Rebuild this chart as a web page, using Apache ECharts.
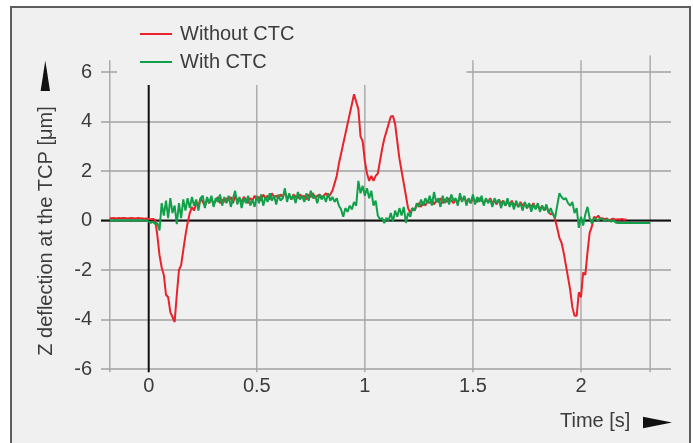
<!DOCTYPE html>
<html>
<head>
<meta charset="utf-8">
<script src="https://cdn.jsdelivr.net/npm/echarts@6/dist/echarts.min.js"></script>
<style>html,body{margin:0;padding:0;background:#fff}#c{width:693px;height:443px}</style>
</head>
<body>
<div id="c"></div>
<script>
// ---- data ----
var time = [
-0.18,-0.17,-0.16,-0.15,-0.14,-0.13,-0.12,-0.11,-0.10,-0.09,-0.08,-0.07,-0.06,-0.05,-0.04,-0.03,-0.02,-0.01,
0.00,0.01,0.02,0.03,0.04,0.05,0.06,0.07,0.08,0.09,0.10,0.11,0.12,0.13,0.14,0.15,0.16,0.17,0.18,0.19,
0.20,0.21,0.22,0.23,0.24,0.25,0.26,0.27,0.28,0.29,0.30,0.31,0.32,0.33,0.34,0.35,0.36,0.37,0.38,0.39,
0.40,0.41,0.42,0.43,0.44,0.45,0.46,0.47,0.48,0.49,0.50,0.51,0.52,0.53,0.54,0.55,0.56,0.57,0.58,0.59,
0.60,0.61,0.62,0.63,0.64,0.65,0.66,0.67,0.68,0.69,0.70,0.71,0.72,0.73,0.74,0.75,0.76,0.77,0.78,0.79,
0.80,0.81,0.82,0.83,0.84,0.85,0.86,0.87,0.88,0.89,0.90,0.91,0.92,0.93,0.94,0.95,0.96,0.97,0.98,0.99,
1.00,1.01,1.02,1.03,1.04,1.05,1.06,1.07,1.08,1.09,1.10,1.11,1.12,1.13,1.14,1.15,1.16,1.17,1.18,1.19,
1.20,1.21,1.22,1.23,1.24,1.25,1.26,1.27,1.28,1.29,1.30,1.31,1.32,1.33,1.34,1.35,1.36,1.37,1.38,1.39,
1.40,1.41,1.42,1.43,1.44,1.45,1.46,1.47,1.48,1.49,1.50,1.51,1.52,1.53,1.54,1.55,1.56,1.57,1.58,1.59,
1.60,1.61,1.62,1.63,1.64,1.65,1.66,1.67,1.68,1.69,1.70,1.71,1.72,1.73,1.74,1.75,1.76,1.77,1.78,1.79,
1.80,1.81,1.82,1.83,1.84,1.85,1.86,1.87,1.88,1.89,1.90,1.91,1.92,1.93,1.94,1.95,1.96,1.97,1.98,1.99,
2.00,2.01,2.02,2.03,2.04,2.05,2.06,2.07,2.08,2.09,2.10,2.11,2.12,2.13,2.14,2.15,2.16,2.17,2.18,2.19,
2.20,2.21,2.22,2.23,2.24,2.25,2.26,2.27,2.28,2.29,2.30,2.31,2.32
];

var withoutCTC = [
0.1,0.09,0.1,0.08,0.1,0.09,0.1,0.1,0.08,0.09,0.1,0.09,0.08,0.1,0.09,0.08,0.07,0.08,
0.06,0.05,0.06,0.02,-0.6,-1.4,-1.9,-2.2,-3.0,-3.1,-3.7,-3.9,-4.1,-3.0,-2.0,-1.8,-1.2,-0.6,-0.1,0.3,
0.55,0.4,0.7,0.6,0.9,0.75,0.6,0.85,0.7,0.9,0.65,0.8,0.95,0.7,0.85,0.75,0.9,0.8,0.95,0.7,
1.0,0.8,0.9,0.75,0.95,0.85,0.7,0.9,0.8,1.0,0.85,0.95,0.8,1.05,0.9,1.0,0.85,1.1,0.95,1.0,
0.9,1.05,0.95,1.15,0.9,1.0,0.85,1.05,0.95,0.9,1.05,0.95,1.0,0.85,1.05,0.95,1.1,0.9,1.0,1.05,
0.95,1.0,1.1,0.95,1.05,1.2,1.5,1.8,2.3,2.7,3.1,3.5,3.9,4.3,4.7,5.1,4.8,4.5,3.4,3.2,
2.4,1.9,1.6,1.8,1.6,1.8,1.9,2.4,2.9,3.3,3.6,3.9,4.2,4.22,3.9,3.2,2.5,2.0,1.5,1.0,
0.5,0.3,0.5,0.4,0.6,0.7,0.55,0.75,0.6,0.8,0.7,0.85,0.65,0.8,0.75,0.9,0.7,0.85,0.75,0.9,
0.8,0.7,0.85,0.75,0.9,0.8,0.95,0.75,0.85,0.7,0.9,0.8,0.75,0.9,0.8,0.7,0.85,0.75,0.9,0.7,
0.8,0.65,0.85,0.7,0.8,0.6,0.75,0.65,0.8,0.6,0.7,0.55,0.75,0.6,0.7,0.5,0.65,0.55,0.7,0.5,
0.6,0.45,0.6,0.4,0.55,0.35,0.25,0.3,0.05,-0.3,-0.7,-0.9,-1.3,-1.8,-2.3,-2.8,-3.5,-3.85,-3.85,-2.9,
-3.1,-2.1,-2.2,-1.3,-0.5,-0.25,0.15,0.1,0.2,0.05,0.1,0.05,0.08,0.0,0.05,0.07,0.03,0.05,0.04,0.06,
0.03,0.05,null,null,null,null,null,null,null,null,null,null,null
];

var withCTC = [
0.0,0.01,0.0,0.02,0.0,0.01,0.0,0.0,0.01,0.0,0.02,0.0,0.01,0.0,0.0,0.01,0.0,0.0,
-0.05,-0.1,-0.05,-0.15,-0.1,-0.4,0.7,0.2,0.8,0.1,0.9,0.3,0.6,-0.15,0.7,0.1,0.85,0.4,0.9,0.5,
0.95,0.6,0.85,0.4,0.9,1.0,0.5,0.95,0.7,1.0,0.55,0.9,0.75,1.05,0.6,0.95,0.7,1.0,0.55,0.9,
1.2,0.65,0.95,0.5,0.9,0.7,1.0,0.6,0.85,0.55,1.0,0.7,1.05,0.6,0.95,0.75,1.1,0.8,1.0,0.65,
1.05,0.8,0.9,1.3,0.75,1.1,0.85,1.0,0.7,1.15,0.85,1.0,0.75,1.1,0.8,1.2,0.9,1.0,0.7,1.05,
0.85,1.0,0.75,1.1,0.8,0.95,0.75,0.9,0.6,0.45,0.15,0.5,0.35,0.6,0.45,0.75,0.6,1.6,1.1,1.4,
1.0,1.3,0.9,1.2,0.6,0.8,0.2,0.05,0.1,-0.1,0.1,0.0,0.3,-0.05,0.4,0.15,0.5,0.2,0.55,-0.1,
0.3,0.15,0.5,0.4,0.7,0.55,0.85,0.6,0.9,0.7,1.0,0.6,1.15,0.75,0.9,0.55,1.0,0.7,0.95,0.65,
1.05,0.8,0.9,0.6,1.1,0.75,1.0,0.6,0.9,0.7,1.05,0.65,0.95,0.75,1.0,0.6,0.9,0.7,0.85,0.55,
0.9,0.7,0.85,0.5,0.8,0.6,0.9,0.55,0.75,0.45,0.8,0.55,0.7,0.4,0.75,0.5,0.7,0.35,0.65,0.45,
0.7,0.35,0.6,0.4,0.65,0.3,0.5,0.25,0.1,0.6,1.1,0.95,0.85,0.9,0.7,0.6,0.75,0.3,0.5,-0.3,
0.15,-0.2,0.25,0.55,0.1,-0.12,0.1,0.05,0.0,0.1,0.05,-0.02,0.05,0.0,-0.05,0.02,-0.08,-0.1,-0.1,-0.1,
-0.1,-0.1,-0.1,-0.1,-0.1,-0.1,-0.1,-0.1,-0.1,-0.1,-0.1,-0.1,-0.1
];

var seriesNames = ['Without CTC', 'With CTC'];
var xTickValues = [0, 0.5, 1, 1.5, 2];
// vertical grid lines: [x, yFrom, x, yTo]
var vGrid = [
  [-0.18, -6.13, -0.18, 6.47],
  [0.5, -6.13, 0.5, 6.47],
  [1, -6.13, 1, 6.47],
  [1.5, -6.13, 1.5, 6.47],
  [2, -6.13, 2, 6.47],
  [2.32, -6.13, 2.32, 6.67]
];
// zero axes
var zeroLines = [
  [-0.2207, 0, 2.4164, 0],
  [0, -6.13, 0, 6.47]
];

function pair(t, v) {
  var out = [];
  for (var i = 0; i < t.length; i++) out.push([t[i], v[i]]);
  return out;
}

var FONT = 'Liberation Sans';
var TXT = '#3c3c3c';

function lineRenderer(color, width) {
  return function (params, api) {
    var p1 = api.coord([api.value(0), api.value(1)]);
    var p2 = api.coord([api.value(2), api.value(3)]);
    return {
      type: 'line',
      shape: { x1: p1[0], y1: p1[1], x2: p2[0], y2: p2[1] },
      style: { stroke: color, lineWidth: width }
    };
  };
}

var chart = echarts.init(document.getElementById('c'), null, { renderer: 'canvas' });
chart.setOption({
  backgroundColor: '#ffffff',
  animation: false,
  graphic: [
    { type: 'rect', z: -10, shape: { x: 11, y: 7, width: 679, height: 450 },
      style: { fill: '#f0f0f0', stroke: '#5e5e5e', lineWidth: 2 } },
    { type: 'polygon', shape: { points: [[45.3, 60.5], [50, 91], [40.6, 91]] }, style: { fill: '#111' } },
    { type: 'polygon', shape: { points: [[643, 416.8], [672, 422.5], [643, 428.3]] }, style: { fill: '#111' } },
    { type: 'text', x: 46, y: 231, rotation: Math.PI / 2,
      style: { text: 'Z deflection at the TCP [μm]', font: '20px "' + FONT + '"', fill: TXT,
        align: 'center', verticalAlign: 'middle' } },
    { type: 'text', x: 560, y: 421,
      style: { text: 'Time [s]', font: '20px "' + FONT + '"', fill: TXT,
        align: 'left', verticalAlign: 'middle' } }
  ],
  legend: {
    orient: 'vertical',
    left: 117, top: 10,
    padding: [14, 172, 13, 23],
    itemWidth: 32, itemHeight: 20, itemGap: 8,
    backgroundColor: '#f0f0f0',
    z: 10,
    textStyle: { fontFamily: FONT, fontSize: 20, color: TXT, padding: [0, 0, 0, 3] },
    data: [
      { name: seriesNames[0], icon: 'path://M0,0L32,0L32,2L0,2Z' },
      { name: seriesNames[1], icon: 'path://M0,0L32,0L32,2L0,2Z' }
    ]
  },
  grid: { left: 101, right: 22, top: 72, bottom: 74, containLabel: false },
  xAxis: {
    type: 'value', min: -0.2207, max: 2.4164,
    axisLine: { show: false }, axisTick: { show: false }, splitLine: { show: false },
    axisLabel: { customValues: xTickValues, fontFamily: FONT, fontSize: 20, color: TXT, margin: 7 }
  },
  yAxis: {
    type: 'value', min: -6, max: 6, interval: 2,
    axisLine: { show: false }, axisTick: { show: false },
    splitLine: { show: true, lineStyle: { color: '#a2a2a2', width: 1.5 } },
    axisLabel: { fontFamily: FONT, fontSize: 20, color: TXT, margin: 9 }
  },
  series: [
    { type: 'custom', name: 'vgrid', silent: true, clip: false, z: 1,
      renderItem: lineRenderer('#a2a2a2', 1.3), data: vGrid, encode: { x: [0, 2], y: [1, 3] } },
    { type: 'custom', name: 'zero', silent: true, clip: false, z: 2,
      renderItem: lineRenderer('#111111', 2), data: zeroLines, encode: { x: [0, 2], y: [1, 3] } },
    { type: 'line', name: seriesNames[0], data: pair(time, withoutCTC), showSymbol: false, symbol: 'none',
      z: 4, lineStyle: { color: '#e9222b', width: 2 }, itemStyle: { color: '#e9222b' } },
    { type: 'line', name: seriesNames[1], data: pair(time, withCTC), showSymbol: false, symbol: 'none',
      z: 5, lineStyle: { color: '#11a04a', width: 2 }, itemStyle: { color: '#11a04a' } }
  ]
});
</script>
</body>
</html>
